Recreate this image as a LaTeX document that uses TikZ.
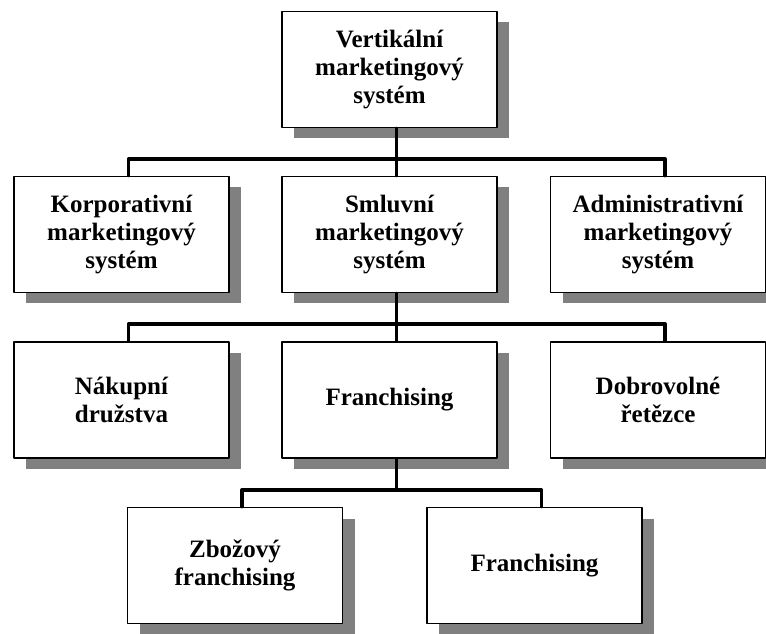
\documentclass[tikz,border=0pt]{standalone}
\usepackage{fontspec}
\setmainfont{Liberation Serif}
\usetikzlibrary{shadows}

\begin{document}
\begin{tikzpicture}[line cap=round,line join=round,x=1pt,y=1pt,
  box/.style={draw=black,line width=1.8pt,fill=white,minimum width=215pt,minimum height=116pt,
    align=center,font=\bfseries\fontsize{25}{28}\selectfont,
    drop shadow={shadow xshift=12pt,shadow yshift=-11pt,fill=black!50,opacity=1}},
  conn/.style={line width=3.6pt}]
\useasboundingbox (0,0) rectangle (766,633);
% boxes
\node[box] (vms) at (389.5,563.5) {Vertikální\\marketingový\\systém};
\node[box] (kor) at (121.5,398.5) {Korporativní\\marketingový\\systém};
\node[box] (sml) at (389.5,398.5) {Smluvní\\marketingový\\systém};
\node[box] (adm) at (658,398.5) {Administrativní\\marketingový\\systém};
\node[box] (nak) at (121.5,233) {Nákupní\\družstva};
\node[box] (fra) at (389.5,233) {Franchising};
\node[box] (dob) at (658,233) {Dobrovolné\\řetězce};
\node[box] (zbo) at (235,67.5) {Zbožový\\franchising};
\node[box] (fr2) at (534.5,67.5) {Franchising};
% connectors
\draw[conn] ([xshift=7pt]vms.south) -- ++(0,-30.5) coordinate (bus1);
\draw[conn] ([xshift=7pt]kor.north) |- (bus1) -| ([xshift=7pt]adm.north);
\draw[conn] (bus1) -- ([xshift=7pt]sml.north);
\draw[conn] ([xshift=7pt]sml.south) -- ++(0,-30.5) coordinate (bus2);
\draw[conn] ([xshift=7pt]nak.north) |- (bus2) -| ([xshift=7pt]dob.north);
\draw[conn] (bus2) -- ([xshift=7pt]fra.north);
\draw[conn] ([xshift=7pt]fra.south) -- ++(0,-31) coordinate (bus3);
\draw[conn] ([xshift=7pt]zbo.north) |- (bus3) -| ([xshift=7pt]fr2.north);
\end{tikzpicture}
\end{document}
